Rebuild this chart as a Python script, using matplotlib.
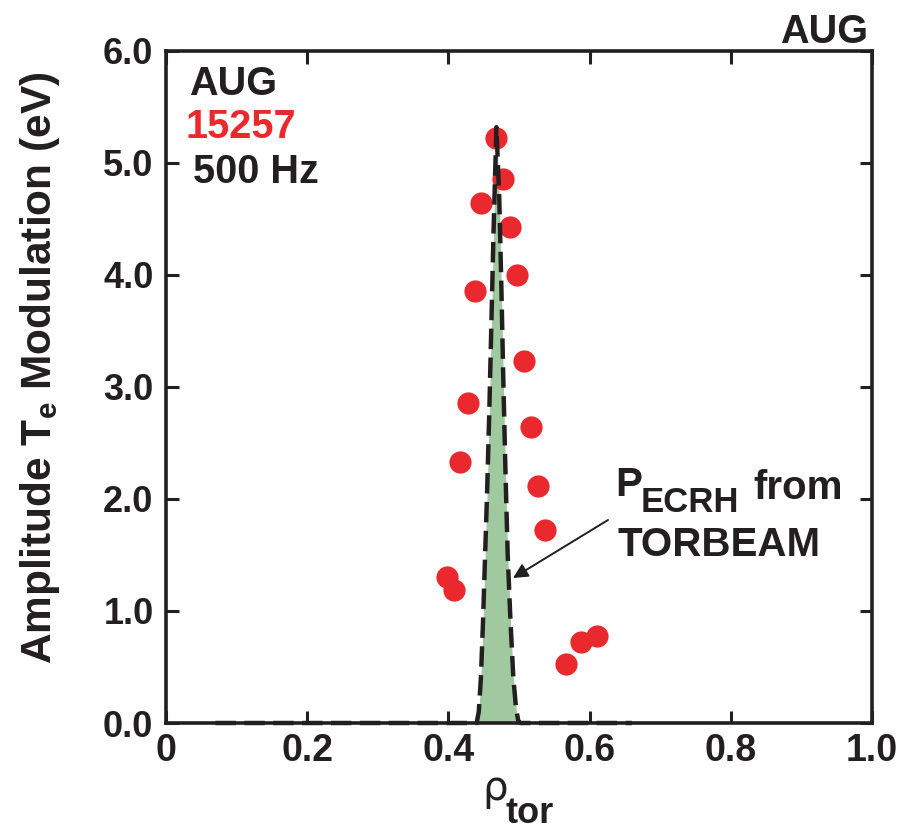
import matplotlib
matplotlib.use("Agg")
import matplotlib.pyplot as plt

# Measured Te modulation amplitude (shot 15257, 500 Hz)
rho_meas = [0.467, 0.477, 0.446, 0.487, 0.497, 0.437, 0.507, 0.428, 0.517,
            0.417, 0.527, 0.537, 0.398, 0.408, 0.588, 0.610, 0.567]
amp_meas = [5.22, 4.86, 4.64, 4.43, 4.00, 3.86, 3.23, 2.86, 2.64,
            2.33, 2.12, 1.72, 1.30, 1.19, 0.72, 0.78, 0.53]

# ECRH power deposition profile from TORBEAM (scaled)
rho_ecrh = [0.070, 0.440, 0.443, 0.446, 0.449, 0.452, 0.455, 0.458, 0.461,
            0.464, 0.468, 0.472, 0.475, 0.478, 0.481, 0.484, 0.488, 0.492,
            0.496, 0.499, 0.502, 0.660]
p_ecrh = [0.0, 0.0, 0.10, 0.40, 0.90, 1.50, 2.10, 2.80, 3.60,
          4.40, 5.32, 4.70, 3.90, 3.00, 2.20, 1.50, 0.90, 0.40,
          0.12, 0.02, 0.0, 0.0]

x_ticks = [0, 0.2, 0.4, 0.6, 0.8, 1.0]
x_ticklabels = ["0", "0.2", "0.4", "0.6", "0.8", "1.0"]
y_ticks = [0, 1, 2, 3, 4, 5, 6]
y_ticklabels = ["0.0", "1.0", "2.0", "3.0", "4.0", "5.0", "6.0"]

FAM = ["Liberation Sans", "DejaVu Sans"]
INK = "#231f20"
RED = "#e9292e"
GREEN = "#a1c9a0"

plt.rcParams["font.family"] = FAM
plt.rcParams["font.weight"] = "bold"
plt.rcParams["mathtext.fontset"] = "custom"
plt.rcParams["mathtext.bf"] = "Liberation Sans:bold"
plt.rcParams["mathtext.rm"] = "Liberation Sans:bold"

W, H = 898, 830
fig = plt.figure(figsize=(W / 100, H / 100), dpi=100)
ax = fig.add_axes([166 / W, 107 / H, 706 / W, 672 / H])

ax.fill_between(rho_ecrh, 0, p_ecrh, color=GREEN, lw=0, zorder=1)
ax.plot(rho_meas, amp_meas, "o", ms=16, color=RED, mec="none", zorder=2)
ax.plot(rho_ecrh, p_ecrh, color=INK, lw=3.2, dashes=(4.6, 1.9),
        solid_joinstyle="miter", zorder=3, clip_on=False)

ax.set_xlim(0, 1.0)
ax.set_ylim(0, 6.0)
ax.set_xticks(x_ticks)
ax.set_xticklabels(x_ticklabels)
ax.set_yticks(y_ticks)
ax.set_yticklabels(y_ticklabels)
ax.tick_params(direction="in", top=True, right=True, length=9, width=2.2,
               color=INK, labelcolor=INK)
ax.tick_params(axis="x", labelsize=27, pad=7)
ax.tick_params(axis="y", labelsize=26, pad=9)
for lab in ax.get_xticklabels() + ax.get_yticklabels():
    lab.set_fontweight("bold")
for sp in ax.spines.values():
    sp.set_linewidth(2.6)
    sp.set_color(INK)

# corner labels
txt = dict(fontsize=28.5, fontweight="bold", family=FAM)
ax.text(0.033, 5.607, "AUG", color=INK, va="baseline", ha="left", **txt)
ax.text(0.028, 5.22, "15257", color=RED, va="baseline", ha="left", **txt)
ax.text(0.038, 4.82, "500 Hz", color=INK, va="baseline", ha="left", **txt)
fig.text(868 / W, 1 - 43 / H, "AUG", color=INK, va="baseline", ha="right", **txt)

# annotation for the TORBEAM profile
def px(x, y):
    return ((x - 166) / 706, (723 - y) / 112)

ax.text(*px(615, 496), "P", color=INK, va="baseline", ha="left",
        fontsize=29, fontweight="bold", family=FAM)
ax.text(*px(641, 512), "ECRH", color=INK, va="baseline", ha="left",
        fontsize=25, fontweight="bold", family=FAM)
ax.text(*px(753, 499), "from", color=INK, va="baseline", ha="left",
        fontsize=29, fontweight="bold", family=FAM)
ax.text(*px(618, 556), "TORBEAM", color=INK, va="baseline", ha="left",
        fontsize=29, fontweight="bold", family=FAM)
ax.annotate("", xy=px(513, 578), xytext=px(608, 520),
            arrowprops=dict(arrowstyle="-|>", color=INK, lw=1.4,
                            mutation_scale=22, shrinkA=0, shrinkB=0))

# axis titles
fig.text(40 / W, 1 - 368 / H, "Amplitude T$_\\mathbf{e}$ Modulation (eV)",
         rotation=90, ha="center", va="center", color=INK,
         fontsize=30.5, fontweight="bold", family=FAM)
fig.text(482 / W, 1 - 800 / H, "\u03c1", ha="left", va="baseline",
         color=INK, fontsize=29, fontweight="normal", family=["DejaVu Sans"])
fig.text(506 / W, 1 - 823 / H, "tor", ha="left", va="baseline",
         color=INK, fontsize=26, fontweight="bold", family=FAM)

fig.savefig("out.png", dpi=100)
